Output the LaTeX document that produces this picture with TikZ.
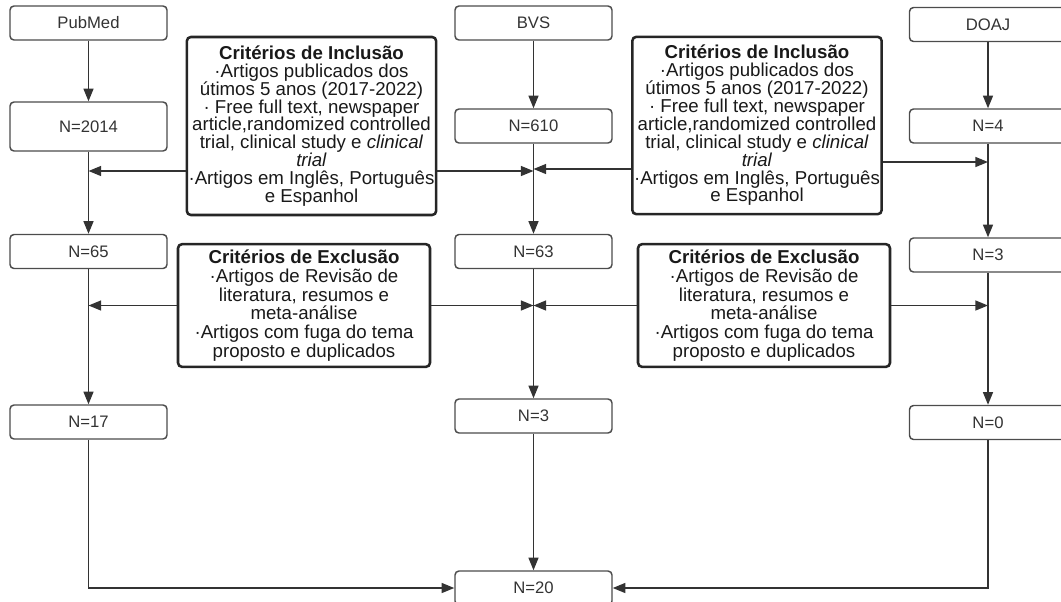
\documentclass[tikz,border=0pt]{standalone}
\usepackage{fontspec}
\setmainfont{Liberation Sans}
\usetikzlibrary{arrows.meta,positioning}
\tikzset{
nbox/.style={rectangle,rounded corners=3pt,
minimum width=117.75pt,minimum height=25.5pt,inner sep=0pt,
draw=black!70,line width=1.1pt,text=black!80,font=\fontsize{12.5}{14}\selectfont},
cbox/.style={rectangle,rounded corners=3pt,
minimum width=187pt,inner sep=0pt,align=center,
draw=black!85,line width=1.9pt,text=black!90,font=\fontsize{14}{13.4}\selectfont},
flow/.style={draw=black!80,line width=1.1pt,-{Triangle[length=9.5pt,width=7.5pt]}}
}
\begin{document}
\begin{tikzpicture}[x=0.75pt,y=-0.75pt]
	\useasboundingbox (0,0) rectangle (1061,601);

		\node[nbox] (P1) at (88.5,23) {PubMed};
		\node[nbox,minimum height=36.75pt] (P2) at (88.5,126.5) {N=2014};
		\node[nbox] (P3) at (88.5,251.5) {N=65};
		\node[nbox] (P4) at (88.5,422) {N=17};

		\node[nbox] (B1) at (533.5,23) {BVS};
		\node[nbox] (B2) at (533.5,126) {N=610};
		\node[nbox] (B3) at (533.5,251.5) {N=63};
		\node[nbox] (B4) at (533.5,416) {N=3};
		\node[nbox] (T) at (533.5,588) {N=20};

		\node[nbox] (D1) at (988,24.5) {DOAJ};
		\node[nbox] (D2) at (988,126) {N=4};
		\node[nbox] (D3) at (988,255) {N=3};
		\node[nbox] (D4) at (988,422.5) {N=0};

		\node[cbox,minimum height=133.5pt] (I1) at (311.5,126) {\textbf{Critérios de Inclusão}\\
		·Artigos publicados dos\\útimos 5 anos (2017-2022)\\
		· Free full text, newspaper\\article,randomized controlled\\
		trial, clinical study e \textit{clinical}\\\textit{trial}\\
		·Artigos em Inglês, Português\\e Espanhol};
		\node[cbox,minimum height=133pt] (I2) at (757,125.5) {\textbf{Critérios de Inclusão}\\
		·Artigos publicados dos\\útimos 5 anos (2017-2022)\\
		· Free full text, newspaper\\article,randomized controlled\\
		trial, clinical study e \textit{clinical}\\\textit{trial}\\
		·Artigos em Inglês, Português\\e Espanhol};
		\node[cbox,minimum width=189pt,minimum height=92pt,font=\fontsize{14}{14}\selectfont] (E1) at (304,305.5) {\textbf{Critérios de Exclusão}\\
		·Artigos de Revisão de\\literatura, resumos e\\meta-análise\\
		·Artigos com fuga do tema\\proposto e duplicados};
		\node[cbox,minimum width=189pt,minimum height=92pt,font=\fontsize{14}{14}\selectfont] (E2) at (764,305.5) {\textbf{Critérios de Exclusão}\\
		·Artigos de Revisão de\\literatura, resumos e\\meta-análise\\
		·Artigos com fuga do tema\\proposto e duplicados};

		\coordinate (PI) at (88.5,171);
		\coordinate (BIL) at (533.5,171);
		\coordinate (BIR) at (533.5,169);
		\coordinate (DI) at (988,162);

		\draw[flow] (P1) -- (P2);
		\draw[flow] (P2) -- (P3);
		\draw[flow] (P3) -- (P4);
		\draw[flow] (B1) -- (B2);
		\draw[flow] (B2) -- (B3);
		\draw[flow] (B3) -- (B4);
		\draw[flow] (B4) -- (T);
		\draw[flow] (D1) -- (D2);
		\draw[flow] (D2) -- (D3);
		\draw[flow] (D3) -- (D4);

		\draw[flow] (I1.west |- PI) -- (PI);
		\draw[flow] (I1.east |- BIL) -- (BIL);
		\draw[flow] (I2.west |- BIR) -- (BIR);
		\draw[flow] (I2.east |- DI) -- (DI);
		\draw[flow] (E1.west) -- (E1.west -| P3);
		\draw[flow] (E1.east) -- (E1.east -| B3);
		\draw[flow] (E2.west) -- (E2.west -| B3);
		\draw[flow] (E2.east) -- (E2.east -| D3);

		\draw[flow] (P4.south) |- (T.west);
		\draw[flow] (D4.south) |- (T.east);

	\end{tikzpicture}
\end{document}
